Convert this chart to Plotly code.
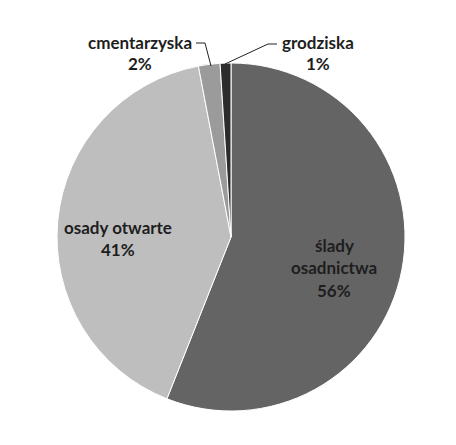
import plotly.graph_objects as go

labels = ["ślady osadnictwa", "osady otwarte", "cmentarzyska", "grodziska"]
values = [56, 41, 2, 1]
colors = ["#646464", "#bebebe", "#9b9b9b", "#2c2c2c"]

W, H = 456, 445
OFF = 8  # page body margin

def px(x):
    return (x - OFF) / W

def py(y):
    return 1 - (y - OFF) / H

total = sum(values)
pct = [f"{round(v * 100 / total)}%" for v in values]

# label line layout: (lines of text, centre x, first-line y, line step)
label_lines = [
    (["ślady", "osadnictwa", pct[0]], 334, 245, 22.5),
    (["osady otwarte", pct[1]], 118, 227, 22),
    (["cmentarzyska", pct[2]], 140, 43, 20.5),
    (["grodziska", pct[3]], 318, 43, 20.5),
]

fig = go.Figure(go.Pie(
    labels=labels,
    values=values,
    sort=False,
    direction="clockwise",
    rotation=0,
    marker=dict(colors=colors, line=dict(color="white", width=1)),
    textinfo="none",
    hoverinfo="label+percent",
    showlegend=False,
    domain=dict(x=[px(57), px(405)], y=[py(412), py(62)]),
))

annotations = []
for lines, cx, y0, step in label_lines:
    for i, t in enumerate(lines):
        annotations.append(dict(
            x=px(cx), y=py(y0 + i * step), xref="paper", yref="paper",
            text=f"<b>{t}</b>", showarrow=False,
            font=dict(family="Lato", size=17, color="#1e1e1e"),
            xanchor="center", yanchor="middle",
        ))

shapes = [
    dict(type="path", xref="paper", yref="paper",
         path=f"M {px(196)} {py(43)} L {px(205)} {py(43)} L {px(211)} {py(66)}",
         line=dict(color="#222222", width=1)),
    dict(type="path", xref="paper", yref="paper",
         path=f"M {px(277)} {py(44)} L {px(268)} {py(44)} L {px(225)} {py(64)}",
         line=dict(color="#222222", width=1)),
]

fig.update_layout(
    width=W, height=H,
    margin=dict(l=0, r=0, t=0, b=0),
    paper_bgcolor="white", plot_bgcolor="white",
    annotations=annotations, shapes=shapes,
)

fig.write_html("out.html")
